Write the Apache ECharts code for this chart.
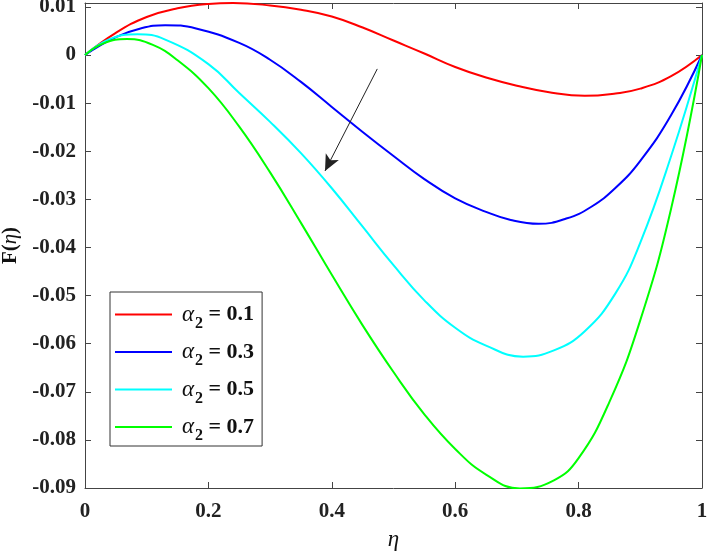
<!DOCTYPE html>
<html>
<head>
<meta charset="utf-8">
<script src="https://cdn.jsdelivr.net/npm/echarts@6/dist/echarts.min.js"></script>
<style>
html,body{margin:0;padding:0;background:#fff;}
#chart{width:708px;height:556px;}
</style>
</head>
<body>
<div id="chart"></div>
<script>
// α2 = 0.1
var eta_a01 = [0, 0.05, 0.1, 0.15, 0.2, 0.24, 0.3, 0.35, 0.4, 0.45, 0.5, 0.55, 0.6, 0.65, 0.7, 0.75, 0.81, 0.86, 0.9, 0.95, 1];
var F_a01   = [0, 0.0046, 0.0079, 0.0097, 0.0106, 0.0108, 0.0103, 0.0094, 0.0080, 0.0057, 0.0030, 0.0003, -0.0025, -0.0047, -0.0064, -0.0077, -0.0085, -0.0080, -0.0070, -0.0044, 0];
// α2 = 0.3
var eta_a03 = [0, 0.05, 0.09, 0.13, 0.18, 0.25, 0.3, 0.35, 0.4, 0.45, 0.5, 0.55, 0.6, 0.65, 0.69, 0.735, 0.78, 0.82, 0.86, 0.9, 0.95, 1];
var F_a03   = [0, 0.0037, 0.0055, 0.0062, 0.0055, 0.0025, -0.0010, -0.0056, -0.0108, -0.0160, -0.0210, -0.0258, -0.0298, -0.0326, -0.0343, -0.0351, -0.0340, -0.0316, -0.0276, -0.0220, -0.0125, 0];
// α2 = 0.5
var eta_a05 = [0, 0.04, 0.085, 0.13, 0.2, 0.25, 0.3, 0.35, 0.4, 0.45, 0.5, 0.55, 0.6, 0.65, 0.71, 0.76, 0.81, 0.86, 0.9, 0.95, 1];
var F_a05   = [0, 0.0033, 0.0043, 0.0032, -0.0019, -0.0079, -0.0139, -0.0204, -0.0277, -0.0357, -0.0437, -0.0510, -0.0567, -0.0604, -0.0627, -0.0614, -0.0574, -0.0495, -0.0390, -0.0210, 0];
// α2 = 0.7
var eta_a07 = [0, 0.03, 0.068, 0.11, 0.15, 0.2, 0.25, 0.3, 0.35, 0.4, 0.45, 0.5, 0.55, 0.6, 0.65, 0.705, 0.76, 0.8, 0.85, 0.9, 0.95, 1];
var F_a07   = [0, 0.0024, 0.0033, 0.0021, -0.0011, -0.0069, -0.0149, -0.0244, -0.0349, -0.0457, -0.0562, -0.0659, -0.0747, -0.0819, -0.0872, -0.0901, -0.0884, -0.0838, -0.0721, -0.0551, -0.0319, 0];

var alphaValues = ['0.1', '0.3', '0.5', '0.7'];
var etaData = [eta_a01, eta_a03, eta_a05, eta_a07];
var seriesData = [F_a01, F_a03, F_a05, F_a07];
var colors = ['#ff0000', '#0000ff', '#00ffff', '#00ff00'];
// arrow annotation (data coordinates): from -> to
var arrowFrom = [0.4737, -0.0029];
var arrowTo = [0.389, -0.0241];

function pairs(xs, ys) {
  var out = [];
  for (var i = 0; i < xs.length; i++) out.push([xs[i], ys[i]]);
  return out;
}

var axisColor = '#444';
var serif = '"Liberation Serif", "Times New Roman", serif';

var series = seriesData.map(function (d, i) {
  var s = {
    name: 'a2 = ' + alphaValues[i],
    type: 'line',
    data: pairs(etaData[i], d),
    smooth: 0.45,
    showSymbol: false,
    symbol: 'none',
    lineStyle: { color: colors[i], width: 2 },
    itemStyle: { color: colors[i] },
    xAxisIndex: 0,
    yAxisIndex: 0,
    z: 3
  };
  if (i === 0) {
    s.markLine = {
      silent: true,
      symbol: ['none', 'arrow'],
      symbolSize: [11, 16],
      label: { show: false },
      lineStyle: { color: '#222', width: 1, type: 'solid' },
      data: [[{ coord: arrowFrom }, { coord: arrowTo }]]
    };
  }
  return s;
});

var chart = echarts.init(document.getElementById('chart'));
chart.setOption({
  animation: false,
  backgroundColor: '#fff',
  grid: { left: 85, right: 6, top: 3, bottom: 68, containLabel: false, outerBoundsMode: 'none' },
  legend: {
    orient: 'vertical',
    left: 110,
    top: 292,
    padding: [11, 8, 2, 5],
    itemGap: 9,
    itemWidth: 57,
    itemHeight: 2,
    icon: 'rect',
    borderColor: '#333',
    borderWidth: 1,
    backgroundColor: '#fff',
    data: series.map(function (s) { return s.name; }),
    formatter: function (name) {
      var v = name.split('= ')[1];
      return '{a|α}{s|2}{t| = ' + v + '}';
    },
    textStyle: {
      rich: {
        a: { fontFamily: serif, fontStyle: 'italic', fontSize: 23, color: '#111', padding: [0, 0, 0, 5] },
        s: { fontFamily: serif, fontWeight: 'bold', fontSize: 16, color: '#111', padding: [18, 0, 0, 1] },
        t: { fontFamily: serif, fontWeight: 'bold', fontSize: 22, color: '#111' }
      }
    }
  },
  xAxis: [{
    type: 'value',
    min: 0, max: 1, interval: 0.2,
    name: 'η',
    nameLocation: 'middle',
    nameGap: 40,
    nameTextStyle: { fontFamily: serif, fontStyle: 'italic', fontSize: 23, color: '#111' },
    axisLine: { show: true, onZero: false, lineStyle: { color: axisColor, width: 1 } },
    axisTick: { show: true, inside: true, length: 6, lineStyle: { color: axisColor } },
    axisLabel: { fontFamily: serif, fontWeight: 'bold', fontSize: 21, color: '#222', margin: 13 },
    splitLine: { show: false }
  }, {
    type: 'value', position: 'top',
    min: 0, max: 1, interval: 0.2,
    axisLine: { show: true, onZero: false, lineStyle: { color: axisColor, width: 1 } },
    axisTick: { show: true, inside: true, length: 6, lineStyle: { color: axisColor } },
    axisLabel: { show: false },
    splitLine: { show: false }
  }],
  yAxis: [{
    type: 'value',
    min: -0.09, max: 0.0108, interval: 0.01,
    name: '{b|F(}{i|η}{b|)}',
    nameLocation: 'middle',
    nameGap: 62,
    nameRotate: 90,
    nameTextStyle: {
      rich: {
        b: { fontFamily: serif, fontWeight: 'bold', fontSize: 21, color: '#111' },
        i: { fontFamily: serif, fontStyle: 'italic', fontSize: 21, color: '#111' }
      }
    },
    axisLine: { show: true, onZero: false, lineStyle: { color: axisColor, width: 1 } },
    axisTick: { show: true, inside: true, length: 6, lineStyle: { color: axisColor } },
    axisLabel: {
      fontFamily: serif, fontWeight: 'bold', fontSize: 21, color: '#222', margin: 9,
      showMaxLabel: false,
      formatter: function (v) { return String(Math.round(v * 100) / 100); }
    },
    splitLine: { show: false }
  }, {
    type: 'value', position: 'right',
    min: -0.09, max: 0.0108, interval: 0.01,
    axisLine: { show: true, onZero: false, lineStyle: { color: axisColor, width: 1 } },
    axisTick: { show: true, inside: true, length: 6, lineStyle: { color: axisColor } },
    axisLabel: { show: false },
    splitLine: { show: false }
  }],
  series: series
});
</script>
</body>
</html>
